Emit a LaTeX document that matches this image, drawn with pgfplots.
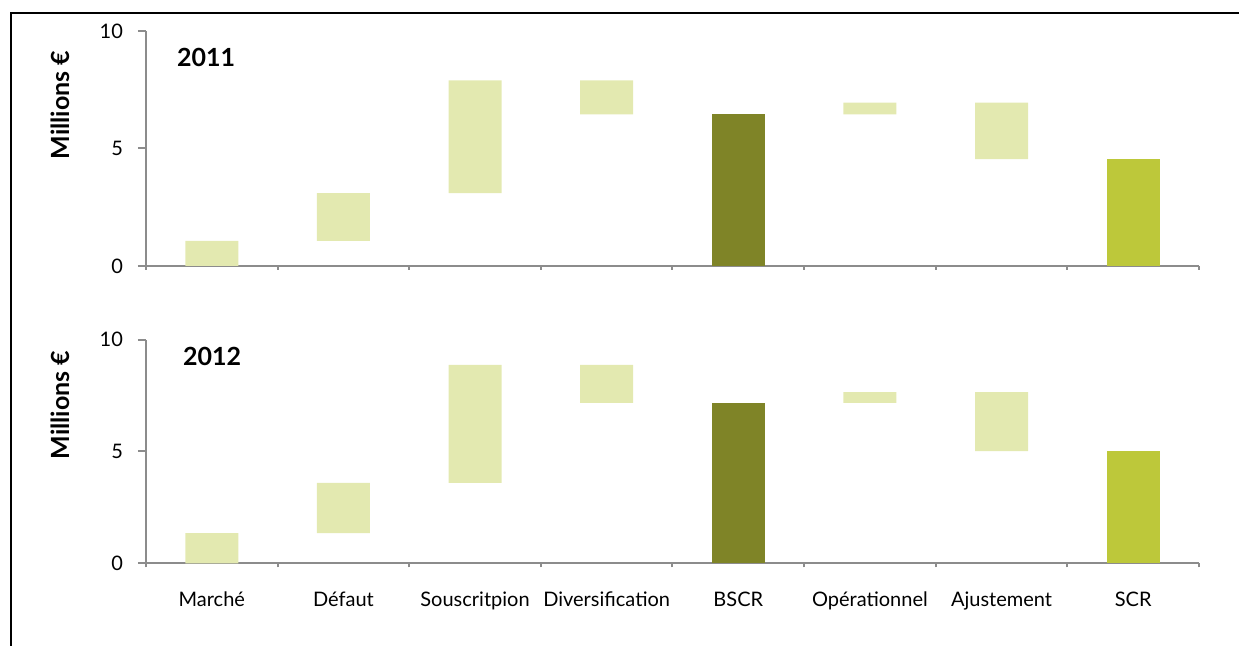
\documentclass[border=0pt]{standalone}
\usepackage{fontspec}
\setmainfont{Lato}
\usepackage{pgfplots}
\usepackage{pgfplotstable}
\pgfplotsset{compat=1.18}
\definecolor{deltac}{HTML}{E3E9B0}
\definecolor{bscrc}{HTML}{7F8427}
\definecolor{scrc}{HTML}{BDC83A}
\definecolor{axgray}{HTML}{8C8C8C}

\pgfplotstableread{
x base delta bscr scr
0 0    1.07 0    0
1 1.07 2.03 0    0
2 3.10 4.80 0    0
3 6.45 1.45 0    0
4 0    0    6.45 0
5 6.45 0.50 0    0
6 4.55 2.40 0    0
7 0    0    0    4.55
}\tabA

\pgfplotstableread{
x base delta bscr scr
0 0    1.35 0    0
1 1.35 2.25 0    0
2 3.60 5.27 0    0
3 7.17 1.70 0    0
4 0    0    7.17 0
5 7.17 0.49 0    0
6 5.02 2.64 0    0
7 0    0    0    5.02
}\tabB

\pgfplotsset{
  wf/.style={
    scale only axis,
    width=526.5pt,
    anchor=south west,
    ybar stacked,
    bar width=26.5pt,
    xmin=-0.5, xmax=7.5,
    ymin=0, ymax=10,
    enlargelimits=false,
    ytick={0,5,10},
    xtick={0,...,7},
    minor xtick={-0.5,0.5,...,7.5},
    axis lines*=left,
    axis line style={draw=axgray, line width=1pt},
    tick align=outside,
    major tick length=4pt,
    minor tick length=2pt,
    tick style={draw=axgray, line width=1pt},
    major x tick style={draw=none},
    minor x tick style={draw=axgray, line width=1pt},
    /pgf/number format/assume math mode=true,
    tick label style={font=\fontsize{10}{12}\selectfont, text=black},
    yticklabel style={xshift=-4pt},
    xticklabel style={anchor=north, text height=7.2pt, text depth=2pt, yshift=-7pt},
    every axis y label/.style={rotate=90, anchor=center, font=\fontsize{12.5}{15}\selectfont\bfseries},
    clip=false,
  },
  base/.style={draw=none, fill=none},
  dl/.style={draw=none, fill=deltac},
  bs/.style={draw=none, fill=bscrc},
  sc/.style={draw=none, fill=scrc},
}

\begin{document}
\begin{tikzpicture}
\useasboundingbox (0pt,0pt) rectangle (619.5pt,-323pt);
\draw[line width=1pt] (5.5pt,-323pt) -- (5.5pt,-6.65pt) -- (619.5pt,-6.65pt);

\begin{axis}[wf, at={(73pt,-133pt)}, height=117.5pt,
  xticklabels={},
  ylabel={Millions €},
  every axis y label/.append style={at={(axis description cs:-0.0817,0.685)}}]
\addplot[base] table[x=x,y=base] {\tabA};
\addplot[dl] table[x=x,y=delta] {\tabA};
\addplot[bs] table[x=x,y=bscr] {\tabA};
\addplot[sc] table[x=x,y=scr] {\tabA};
\node[anchor=west, font=\fontsize{12.5}{15}\selectfont\bfseries] at (axis description cs:0.0228,0.889) {2011};
\end{axis}

\begin{axis}[wf, at={(73pt,-281.65pt)}, height=111.8pt,
  xticklabels={Marché, Défaut, Souscritpion, Diversification, BSCR, Opérationnel, Ajustement, SCR},
  ylabel={Millions €},
  every axis y label/.append style={at={(axis description cs:-0.0817,0.708)}}]
\addplot[base] table[x=x,y=base] {\tabB};
\addplot[dl] table[x=x,y=delta] {\tabB};
\addplot[bs] table[x=x,y=bscr] {\tabB};
\addplot[sc] table[x=x,y=scr] {\tabB};
\node[anchor=west, font=\fontsize{12.5}{15}\selectfont\bfseries] at (axis description cs:0.0285,0.927) {2012};
\end{axis}
\end{tikzpicture}
\end{document}
